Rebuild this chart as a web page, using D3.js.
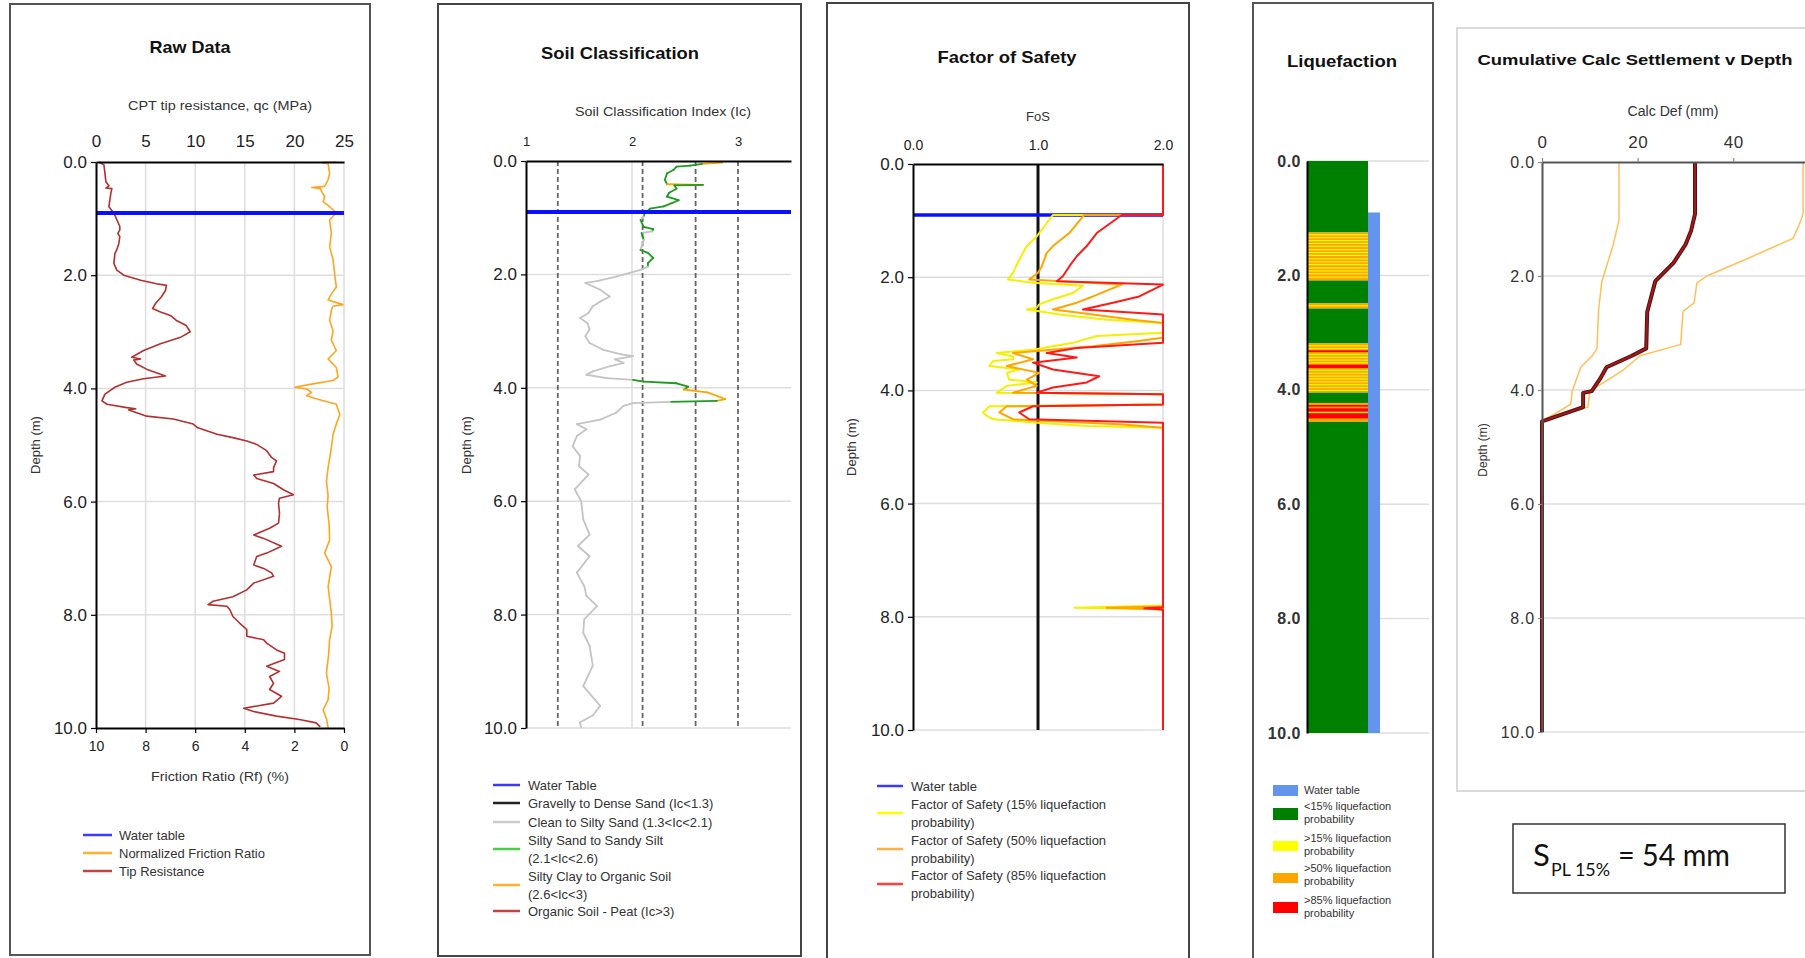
<!DOCTYPE html>
<html><head><meta charset="utf-8">
<script src="https://cdn.jsdelivr.net/npm/d3@7"></script>
<style>body{margin:0;background:#fff;} svg{display:block;}</style>
</head><body>
<script>
// ---------------- DATA ----------------
const depthTicks = [0, 2, 4, 6, 8, 10];
const waterTableDepth = 0.9;

// Raw data: tip resistance qc (MPa)
const qcDepth = [0.0,0.05,0.2,0.35,0.42,0.46,0.47,0.55,0.67,0.79,0.9,1.02,1.14,1.2,1.26,1.32,1.44,1.55,1.62,1.79,1.91,2.0,2.09,2.15,2.18,2.27,2.38,2.5,2.59,2.65,2.71,2.8,2.89,3.0,3.09,3.21,3.33,3.45,3.48,3.5,3.57,3.66,3.75,3.78,3.83,3.89,3.98,4.1,4.22,4.28,4.34,4.36,4.38,4.43,4.49,4.54,4.63,4.69,4.81,4.87,4.93,4.99,5.1,5.22,5.28,5.4,5.47,5.53,5.59,5.68,5.79,5.88,5.94,6.03,6.21,6.38,6.47,6.59,6.65,6.79,6.91,6.97,7.12,7.18,7.26,7.32,7.44,7.56,7.68,7.76,7.82,7.85,7.91,8.03,8.15,8.26,8.38,8.44,8.5,8.62,8.68,8.79,8.91,9.0,9.09,9.21,9.32,9.44,9.56,9.65,9.71,9.79,9.85,9.91,9.98];
const qcValue = [0.3,0.8,0.9,1.0,1.3,1.0,1.6,1.5,1.4,1.3,1.8,2.1,2.4,2.4,2.2,2.4,2.3,2.1,1.9,1.8,2.1,2.8,4.5,6.1,7.1,7.0,6.6,6.0,5.7,6.5,7.5,8.1,9.1,9.5,8.6,6.5,4.8,3.6,4.5,3.8,4.1,5.1,6.5,7.0,4.8,3.1,1.9,0.9,0.6,1.1,3.1,4.0,3.3,4.1,5.1,7.8,9.8,10.2,12.2,13.8,15.2,16.2,17.2,17.7,18.2,17.9,17.9,15.9,16.2,17.9,18.9,19.9,18.5,18.4,18.5,18.4,17.5,15.9,16.9,18.7,17.2,16.2,15.9,16.9,17.7,17.9,15.9,15.2,13.8,11.8,11.3,13.2,13.5,13.8,14.5,15.2,15.2,16.9,17.2,18.2,19.0,19.0,17.2,18.5,17.5,17.9,17.5,18.7,17.9,14.9,15.9,18.2,20.5,22.2,22.6];
// Raw data: normalized friction ratio Rf (%)
const rfDepth = [0.0,0.01,0.03,0.2,0.31,0.43,0.45,0.47,0.52,0.61,0.7,0.79,0.9,1.02,1.26,1.5,1.73,1.97,2.21,2.33,2.44,2.52,2.55,2.62,2.8,2.98,3.15,3.33,3.48,3.63,3.8,3.86,3.92,3.98,4.01,4.07,4.13,4.19,4.28,4.46,4.63,4.81,5.05,5.4,5.64,5.9,6.09,6.4,6.68,6.91,7.15,7.5,7.97,8.2,8.44,8.7,9.03,9.3,9.5,9.68,9.85,10.0];
const rfValue = [0.31,0.9,0.64,0.58,0.64,0.78,1.3,0.95,0.9,0.78,0.84,0.58,0.31,0.58,0.51,0.58,0.44,0.38,0.31,0.51,0.64,0.04,0.45,0.51,0.58,0.44,0.51,0.31,0.64,0.31,0.24,0.44,1.25,1.98,1.51,1.31,1.51,1.05,0.31,0.17,0.31,0.44,0.51,0.64,0.71,0.64,0.68,0.6,0.58,0.78,0.51,0.64,0.51,0.48,0.58,0.62,0.71,0.6,0.64,0.84,0.7,0.64];
const qcTicks = [0, 5, 10, 15, 20, 25];
const rfTicks = [10, 8, 6, 4, 2, 0];

// Soil classification index Ic
const icDepth = [0.03,0.05,0.08,0.1,0.16,0.22,0.33,0.41,0.42,0.43,0.49,0.56,0.63,0.69,0.74,0.8,0.84,0.92,0.98,1.04,1.16,1.2,1.24,1.27,1.39,1.51,1.57,1.62,1.71,1.8,1.86,1.92,2.04,2.12,2.15,2.27,2.39,2.48,2.56,2.68,2.77,2.86,2.97,3.09,3.21,3.33,3.41,3.44,3.5,3.56,3.62,3.71,3.77,3.83,3.86,3.89,3.92,3.98,4.03,4.06,4.08,4.14,4.2,4.23,4.25,4.27,4.32,4.44,4.56,4.64,4.73,4.85,5.03,5.2,5.38,5.53,5.79,6.0,6.32,6.59,6.79,6.97,7.26,7.5,7.67,7.85,8.08,8.32,8.55,8.9,9.26,9.61,9.78,9.9,9.99];
const icValue = [2.85,2.66,2.55,2.42,2.39,2.33,2.31,2.33,2.67,2.4,2.42,2.35,2.33,2.44,2.38,2.3,2.17,2.12,2.11,2.08,2.11,2.2,2.19,2.09,2.11,2.09,2.08,2.15,2.2,2.15,2.15,2.08,1.85,1.67,1.56,1.7,1.79,1.7,1.63,1.59,1.51,1.58,1.6,1.56,1.6,1.73,1.9,2.01,1.84,1.92,1.79,1.63,1.57,1.76,2.01,2.11,2.42,2.53,2.49,2.61,2.71,2.8,2.88,2.8,2.36,2.01,1.92,1.85,1.7,1.48,1.57,1.48,1.44,1.51,1.5,1.59,1.46,1.52,1.54,1.6,1.49,1.6,1.48,1.55,1.57,1.67,1.55,1.54,1.6,1.63,1.54,1.7,1.63,1.51,1.52];
const icTicks = [1, 2, 3];
const icBoundaries = [1.3, 2.1, 2.6, 3.0];

// Factor of safety
const fos15Depth = [0,0.9,0.9,1.1,1.28,1.45,1.69,1.92,2.04,2.1,2.15,2.28,2.39,2.48,2.54,2.57,2.6,2.66,2.75,2.81,2.98,3.04,3.16,3.28,3.34,3.4,3.45,3.48,3.57,3.63,3.69,3.81,3.86,3.92,4.04,4.07,4.25,4.28,4.39,4.45,4.51,4.57,4.63,4.66,7.8,7.84,7.86,7.88,10];
const fos15Value = [2,2,1.12,1.05,0.99,0.91,0.85,0.8,0.76,0.96,1.36,1.28,1.12,1.01,0.99,0.91,1.01,1.17,1.55,2,2,1.47,1.28,0.96,0.67,0.8,0.8,0.64,0.61,0.85,0.75,0.77,0.99,0.75,0.67,2,2,0.61,0.56,0.59,0.64,0.99,1.39,2,2,1.29,1.9,2,2];
const fos50Depth = [0,0.9,0.9,1.22,1.45,1.57,1.81,1.92,2.04,2.13,2.22,2.34,2.45,2.57,2.63,2.75,2.81,3.07,3.13,3.22,3.34,3.45,3.57,3.69,3.81,3.92,4.04,4.07,4.25,4.28,4.39,4.51,4.6,4.66,7.82,7.84,7.87,10];
const fos50Value = [2,2,1.37,1.25,1.12,1.07,1.03,1.0,0.93,1.67,1.57,1.44,1.31,1.12,1.33,1.76,2,2,1.79,1.44,0.8,0.96,0.75,1.01,0.91,0.99,0.8,2,2,0.75,0.69,0.8,1.65,2,2,1.55,2,2];
const fos85Depth = [0,0.9,0.9,1.22,1.45,1.63,1.81,1.98,2.07,2.13,2.22,2.34,2.45,2.57,2.66,3.16,3.25,3.34,3.42,3.51,3.63,3.75,3.86,3.95,4.04,4.07,4.25,4.28,4.39,4.51,4.57,7.83,7.85,7.87,10];
const fos85Value = [2,2,1.67,1.47,1.39,1.31,1.25,1.2,1.15,2,1.92,1.81,1.6,1.36,2,2,1.31,1.07,1.31,0.96,1.12,1.49,1.39,1.12,0.99,2,2,0.96,0.85,0.93,2,2,1.85,2,2];
const fosTicks = [0, 1, 2];

// Liquefaction column
const liqBreaks = [0,1.25,2.09,2.49,2.58,3.19,4.05,4.23,4.56,10];
const liqClass  = ["<15%",">50%","<15%",">50%","<15%",">50%","<15%",">50%","<15%"];
const liqYellowStripes = [1.29,1.34,1.39,1.44,1.49,1.55,1.60,1.65,1.71,1.76,1.81,1.87,1.92,1.97,2.03,2.53,3.23,3.28,3.38,3.43,3.48,3.53,3.66,3.71,3.76,3.81,3.86,3.91,3.96,4.01,4.39];
const liqRedTop    = [3.31,3.56,4.265,4.324,4.41];
const liqRedBottom = [3.34,3.62,4.295,4.382,4.50];

// Cumulative settlement (mm)
const setMidDepth = [0,0.91,1.2,1.45,1.77,2.09,2.63,3.27,3.4,3.6,3.81,4.02,4.05,4.3,4.55,10];
const setMidValue = [32,32,31.2,30,27.5,23.7,22,21.8,18.8,13.5,12.1,10.4,8.6,8.6,0,0];
const setHiDepth = [0,0.91,1.1,1.34,1.67,2.0,2.12,2.47,2.62,3.2,3.4,3.65,4.02,4.3,4.55,10];
const setHiValue = [54.6,54.6,53.8,52.5,43.6,34.5,32.4,31.8,29.5,29,20.5,17,10,9.6,0,0];
const setLoDepth = [0,1.02,1.45,2.1,2.63,3.27,3.4,3.6,4.02,4.25,4.55,10];
const setLoValue = [16.1,16.1,14.9,12.5,11.8,11.5,10.5,8.1,6.3,6.0,0,0];
const setTicks = [0, 20, 40];

// Legends
const leg1Labels = ["Water table","Normalized Friction Ratio","Tip Resistance"];
const leg1Colors = ["#3b3bff","#ffb030","#c04545"];
const leg2Labels = [["Water Table"],["Gravelly to Dense Sand (Ic<1.3)"],["Clean to Silty Sand (1.3<Ic<2.1)"],["Silty Sand to Sandy Silt","(2.1<Ic<2.6)"],["Silty Clay to Organic Soil","(2.6<Ic<3)"],["Organic Soil - Peat (Ic>3)"]];
const leg2Colors = ["#3b3bff","#222222","#cccccc","#45d045","#ffb030","#c04545"];
const leg3Labels = [["Water table"],["Factor of Safety (15% liquefaction","probability)"],["Factor of Safety (50% liquefaction","probability)"],["Factor of Safety (85% liquefaction","probability)"]];
const leg3Colors = ["#3b3bff","#ffff00","#ffb040","#ff4040"];
const leg4Labels = [["Water table"],["<15% liquefaction","probability"],[">15% liquefaction","probability"],[">50% liquefaction","probability"],[">85% liquefaction","probability"]];
const leg4Colors = ["#6495ed","#008000","#ffff00","#ffa500","#ff0000"];

// ---------------- DRAW ----------------
const FONT = '"Liberation Sans", Arial, sans-serif';
const svg = d3.select("body").append("svg").attr("width",1805).attr("height",958)
  .attr("font-family",FONT);
const zip = (ds, vs) => ds.map((d,i) => ({d, v: vs[i]}));
const GRID = "#dedede";

function rect(x1,y1,x2,y2,stroke,w){
  svg.append("rect").attr("x",x1).attr("y",y1).attr("width",x2-x1).attr("height",y2-y1)
    .attr("fill","none").attr("stroke",stroke).attr("stroke-width",w);
}
function text(x,y,s,o={}){
  const t = svg.append("text").attr("x",x).attr("y",y).text(s)
    .attr("font-size",o.fs||13).attr("fill",o.fill||"#222")
    .attr("text-anchor",o.anchor||"start").attr("font-weight",o.fw||"normal");
  if (o.len) t.attr("textLength",o.len).attr("lengthAdjust","spacingAndGlyphs");
  if (o.rot) t.attr("transform",`rotate(-90,${x},${y})`);
  if (o.family) t.attr("font-family",o.family);
  return t;
}
function styleAxis(g, o){
  g.attr("font-family",FONT).attr("font-size",o.fs);
  g.select(".domain").attr("stroke",o.dc||"#000").attr("stroke-width",o.dw||2);
  g.selectAll(".tick line").attr("stroke",o.tc||"#000").attr("stroke-width",1.2);
  g.selectAll(".tick text").attr("fill",o.color||"#222").attr("font-weight",o.fw||"normal")
    .style("letter-spacing",(o.ls||0)+"px");
}
function hGrid(y, ticks, x0, x1){
  svg.append("g").selectAll("line").data(ticks).join("line")
    .attr("x1",x0).attr("x2",x1).attr("y1",d=>y(d)).attr("y2",d=>y(d))
    .attr("stroke",GRID).attr("stroke-width",1.5);
}
function vGrid(x, ticks, y0, y1){
  svg.append("g").selectAll("line").data(ticks).join("line")
    .attr("x1",d=>x(d)).attr("x2",d=>x(d)).attr("y1",y0).attr("y2",y1)
    .attr("stroke",GRID).attr("stroke-width",1.5);
}
function path(data, x, y, color, w){
  svg.append("path").datum(data).attr("fill","none").attr("stroke",color).attr("stroke-width",w)
    .attr("stroke-linejoin","round")
    .attr("d", d3.line().x(p=>x(p.v)).y(p=>y(p.d)));
}
function lineLegend(labels, colors, lx0, lx1, tx, rows, fs){
  labels.forEach((lab,i)=>{
    const r = rows[i];
    const lines = Array.isArray(lab) ? lab : [lab];
    const ly = lines.length>1 ? (r + (r+18))/2 : r;
    svg.append("line").attr("x1",lx0).attr("x2",lx1).attr("y1",ly).attr("y2",ly)
      .attr("stroke",colors[i]).attr("stroke-width",2.5);
    lines.forEach((s,j)=> text(tx, r + j*18 + fs*0.36, s, {fs, fill:"#333"}));
  });
}

// ===== Panel 1: Raw Data =====
rect(10,4,370,955,"#555",2);
const xQc = d3.scaleLinear().domain([0,25]).range([96,344]);
const xRf = d3.scaleLinear().domain([10,0]).range([96,344]);
const y1 = d3.scaleLinear().domain([0,10]).range([162,728]);
vGrid(xQc, qcTicks.slice(1), 162, 728);
hGrid(y1, depthTicks.slice(1,-1), 96, 344);
path(zip(rfDepth, rfValue), xRf, y1, "#ffa51f", 1.6);
path(zip(qcDepth, qcValue), xQc, y1, "#b3302f", 1.6);
svg.append("line").attr("x1",xQc(0)).attr("x2",xQc(25)).attr("y1",y1(waterTableDepth)).attr("y2",y1(waterTableDepth))
  .attr("stroke","#0a10ff").attr("stroke-width",4);
styleAxis(svg.append("g").attr("transform","translate(0,162)")
  .call(d3.axisTop(xQc).tickValues(qcTicks).tickSize(0).tickPadding(15).tickSizeOuter(0)), {fs:17});
styleAxis(svg.append("g").attr("transform","translate(96,0)")
  .call(d3.axisLeft(y1).tickValues(depthTicks).tickFormat(d3.format(".1f")).tickSize(5).tickPadding(4).tickSizeOuter(0)), {fs:17});
styleAxis(svg.append("g").attr("transform","translate(0,728)")
  .call(d3.axisBottom(xRf).tickValues(rfTicks).tickSize(5).tickPadding(8).tickSizeOuter(0)), {fs:14});
text(190,53,"Raw Data",{fs:17,fw:"bold",anchor:"middle",fill:"#111",len:81});
text(220,110,"CPT tip resistance, qc (MPa)",{fs:13,anchor:"middle",fill:"#333",len:184});
text(220,781,"Friction Ratio (Rf) (%)",{fs:13,anchor:"middle",fill:"#333",len:138});
text(40,445,"Depth (m)",{fs:13,anchor:"middle",rot:true,fill:"#333"});
lineLegend(leg1Labels, leg1Colors, 83, 112, 119, [835,853,871], 13);

// ===== Panel 2: Soil Classification =====
rect(438,4,801,956,"#444",2);
const xIc = d3.scaleLinear().domain([1,3.5]).range([526,791]);
const y2 = d3.scaleLinear().domain([0,10]).range([161,728]);
vGrid(xIc, [2], 161, 728);
hGrid(y2, depthTicks.slice(1), 526, 791);
svg.append("g").selectAll("line").data(icBoundaries).join("line")
  .attr("x1",d=>xIc(d)).attr("x2",d=>xIc(d)).attr("y1",161).attr("y2",728)
  .attr("stroke","#666").attr("stroke-width",1.8).attr("stroke-dasharray","5,3");
const icColor = v => v<1.3 ? "#222222" : v<2.1 ? "#c4c4c4" : v<2.6 ? "#1f9a1f" : v<3 ? "#ffa500" : "#b22222";
const icPts = zip(icDepth, icValue);
const icSegs = icPts.slice(1).map((p,i)=>({a:icPts[i], b:p}));
svg.append("g").selectAll("line").data(icSegs).join("line")
  .attr("x1",s=>xIc(s.a.v)).attr("y1",s=>y2(s.a.d)).attr("x2",s=>xIc(s.b.v)).attr("y2",s=>y2(s.b.d))
  .attr("stroke",s=>icColor(s.b.v)).attr("stroke-width",1.8).attr("stroke-linecap","round");
svg.append("line").attr("x1",xIc(1)).attr("x2",xIc(3.5)).attr("y1",y2(waterTableDepth)).attr("y2",y2(waterTableDepth))
  .attr("stroke","#0a10ff").attr("stroke-width",4);
styleAxis(svg.append("g").attr("transform","translate(0,161)")
  .call(d3.axisTop(xIc).tickValues(icTicks).tickFormat(d3.format("d")).tickSize(0).tickPadding(15).tickSizeOuter(0)), {fs:13});
styleAxis(svg.append("g").attr("transform","translate(526,0)")
  .call(d3.axisLeft(y2).tickValues(depthTicks).tickFormat(d3.format(".1f")).tickSize(5).tickPadding(4).tickSizeOuter(0)), {fs:17});
text(620,59,"Soil Classification",{fs:17,fw:"bold",anchor:"middle",fill:"#111",len:158});
text(663,116,"Soil Classification Index (Ic)",{fs:13,anchor:"middle",fill:"#333",len:176});
text(471,445,"Depth (m)",{fs:13,anchor:"middle",rot:true,fill:"#333"});
lineLegend(leg2Labels, leg2Colors, 493, 520, 528, [785,803,822,840,876,911], 13);

// ===== Panel 3: Factor of Safety =====
rect(827,3,1189,970,"#444",2);
const xF = d3.scaleLinear().domain([0,2]).range([913,1163]);
const y3 = d3.scaleLinear().domain([0,10]).range([164,730]);
vGrid(xF, [2], 164, 730);
hGrid(y3, depthTicks.slice(1), 913, 1163);
svg.append("line").attr("x1",xF(1)).attr("x2",xF(1)).attr("y1",164).attr("y2",730)
  .attr("stroke","#111").attr("stroke-width",3);
svg.append("line").attr("x1",xF(0)).attr("x2",xF(2)).attr("y1",y3(waterTableDepth)).attr("y2",y3(waterTableDepth))
  .attr("stroke","#0a10ff").attr("stroke-width",3.5);
path(zip(fos15Depth, fos15Value), xF, y3, "#f4f000", 2);
path(zip(fos50Depth, fos50Value), xF, y3, "#ffa500", 2);
path(zip(fos85Depth, fos85Value), xF, y3, "#ff1a1a", 2);
styleAxis(svg.append("g").attr("transform","translate(0,164)")
  .call(d3.axisTop(xF).tickValues(fosTicks).tickFormat(d3.format(".1f")).tickSize(0).tickPadding(14).tickSizeOuter(0)), {fs:14});
styleAxis(svg.append("g").attr("transform","translate(913,0)")
  .call(d3.axisLeft(y3).tickValues(depthTicks).tickFormat(d3.format(".1f")).tickSize(5).tickPadding(4).tickSizeOuter(0)), {fs:17});
text(1007,63,"Factor of Safety",{fs:17,fw:"bold",anchor:"middle",fill:"#111",len:139});
text(1038,121,"FoS",{fs:13,anchor:"middle",fill:"#333"});
text(856,447,"Depth (m)",{fs:13,anchor:"middle",rot:true,fill:"#333"});
lineLegend(leg3Labels, leg3Colors, 877, 903, 911, [786,804,840,875], 13);

// ===== Panel 4: Liquefaction =====
rect(1253,3,1433,970,"#555",2);
const y4 = d3.scaleLinear().domain([0,10]).range([161,733]);
const barX0 = 1307, barX1 = 1368, wtX1 = 1380;
hGrid(y4, depthTicks, barX0, 1429);
const liqColor = {"<15%":"#008000",">15%":"#ffff00",">50%":"#ffa500",">85%":"#ff0000"};
svg.append("g").selectAll("rect").data(liqClass).join("rect")
  .attr("x",barX0).attr("width",barX1-barX0)
  .attr("y",(c,i)=>y4(liqBreaks[i])).attr("height",(c,i)=>y4(liqBreaks[i+1])-y4(liqBreaks[i]))
  .attr("fill",c=>liqColor[c]);
svg.append("g").selectAll("rect").data(liqYellowStripes).join("rect")
  .attr("x",barX0).attr("width",barX1-barX0)
  .attr("y",d=>y4(d)-0.5).attr("height",1.1).attr("fill",liqColor[">15%"]);
svg.append("g").selectAll("rect").data(liqRedTop).join("rect")
  .attr("x",barX0).attr("width",barX1-barX0)
  .attr("y",d=>y4(d)).attr("height",(d,i)=>y4(liqRedBottom[i])-y4(d)).attr("fill",liqColor[">85%"]);
svg.append("rect").attr("x",barX1).attr("width",wtX1-barX1)
  .attr("y",y4(waterTableDepth)).attr("height",y4(10)-y4(waterTableDepth)).attr("fill","#6495ed");
styleAxis(svg.append("g").attr("transform",`translate(${barX0},0)`)
  .call(d3.axisLeft(y4).tickValues(depthTicks).tickFormat(d3.format(".1f")).tickSize(0).tickPadding(6).tickSizeOuter(0)), {fs:16, fw:"bold", ls:0.5, color:"#333"});
text(1342,67,"Liquefaction",{fs:16,fw:"bold",anchor:"middle",fill:"#111",len:110});
const leg4Rows = [790,806,838,868,900];
const leg4Sw = [[785,796],[808,820],[841,851],[873,883],[902,913]];
leg4Labels.forEach((lab,i)=>{
  svg.append("rect").attr("x",1273).attr("width",25).attr("y",leg4Sw[i][0]).attr("height",leg4Sw[i][1]-leg4Sw[i][0])
    .attr("fill",leg4Colors[i]);
  lab.forEach((s,j)=> text(1304, leg4Rows[i] + j*13 + 4, s, {fs:11, fill:"#333"}));
});

// ===== Panel 5: Cumulative settlement =====
rect(1457,28,1815,791,"#dadada",2);
const xS = d3.scaleLinear().domain([0,55]).range([1542,1805]);
const y5 = d3.scaleLinear().domain([0,10]).range([162,732]);
hGrid(y5, depthTicks.slice(1), 1542, 1805);
path(zip(setLoDepth, setLoValue), xS, y5, "#ffc05a", 1.5);
path(zip(setHiDepth, setHiValue), xS, y5, "#ffc05a", 1.5);
path(zip(setMidDepth, setMidValue), xS, y5, "#5e0c0c", 4);
path(zip(setMidDepth, setMidValue), xS, y5, "#9b1c1c", 2);
styleAxis(svg.append("g").attr("transform","translate(0,162)")
  .call(d3.axisTop(xS).tickValues(setTicks).tickSize(4).tickPadding(10).tickSizeOuter(0)), {fs:17, dc:"#555", tc:"#888", ls:0.5, color:"#333"});
styleAxis(svg.append("g").attr("transform","translate(1542,0)")
  .call(d3.axisLeft(y5).tickValues(depthTicks).tickFormat(d3.format(".1f")).tickSize(4).tickPadding(3).tickSizeOuter(0)), {fs:16, dc:"#555", tc:"#888", ls:0.8, color:"#333"});
text(1635,65,"Cumulative Calc Settlement v Depth",{fs:15,fw:"bold",anchor:"middle",fill:"#111",len:315});
text(1673,116,"Calc Def (mm)",{fs:14,anchor:"middle",fill:"#333",len:91});
text(1487,450,"Depth (m)",{fs:12,anchor:"middle",rot:true,fill:"#333"});

// S_PL box
rect(1513,824,1785,893,"#333",1.5);
text(1533,866,"S",{fs:31,fill:"#111",family:"Lato, 'Open Sans', sans-serif"});
text(1551,876,"PL 15%",{fs:18,fill:"#111",family:"Lato, 'Open Sans', sans-serif",len:59});
text(1618,866,"= 54 mm",{fs:31,fill:"#111",family:"Lato, 'Open Sans', sans-serif",len:112});
</script>
</body></html>
